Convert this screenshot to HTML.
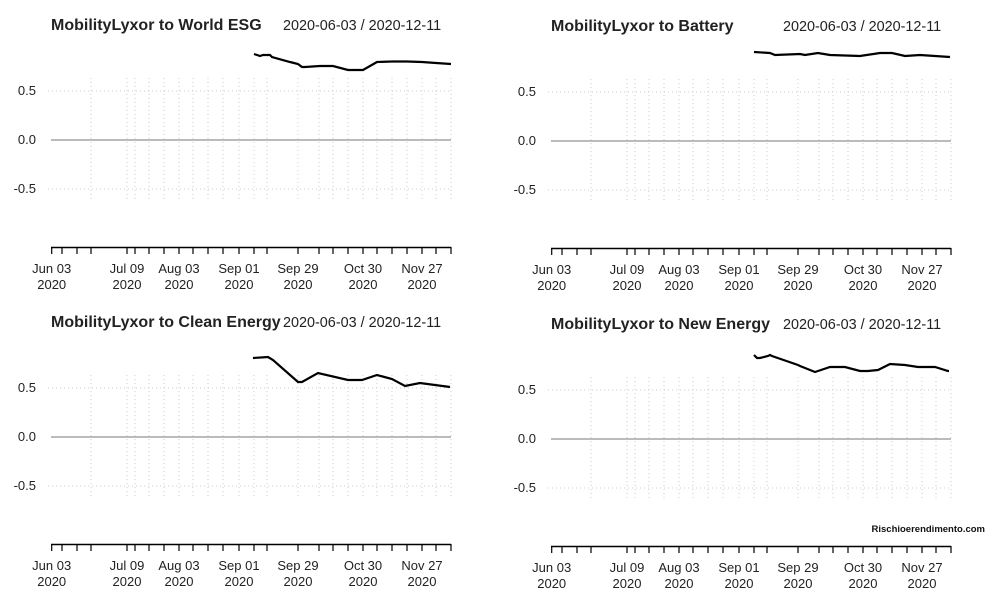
<!DOCTYPE html>
<html><head><meta charset="utf-8"><style>
body{margin:0;background:#fff;}
svg{display:block;font-family:"Liberation Sans",sans-serif;}
</style></head><body>
<svg id="s" width="1000" height="600" xmlns="http://www.w3.org/2000/svg"></svg>
<script>
const s=document.getElementById('s');let h='';
const ticks=[51.7,62,77,91,127,135,149,164,179,193,208,223,239,254,267,298,319,333,348,363,377,392,407,422,436,451];
const grid=[91,127,135,149,164,179,193,208,223,239,254,267,298,319,333,348,363,377,392,407,422,436,451];
const labs=[[51.7,'Jun 03'],[127,'Jul 09'],[179,'Aug 03'],[239,'Sep 01'],[298,'Sep 29'],[363,'Oct 30'],[422,'Nov 27']];
const panels=[
 {dx:0,dy:0,t:'MobilityLyxor to World ESG',tx:283,d:[[254,54],[257,55],[260,56],[263,55],[270,55],[272,57],[290,62],[298,64],[302,67],[305,67],[320,66],[333,66],[348,70],[363,70],[377,62],[392,61.5],[407,61.5],[422,62],[436,63],[451,64]]},
 {dx:500,dy:1,t:'MobilityLyxor to Battery',tx:283,d:[[254,51],[270,52],[275,54],[300,53],[305,54],[318,52],[330,54],[360,55],[380,52],[392,52],[405,55],[420,54],[450,56]]},
 {dx:0,dy:297,t:'MobilityLyxor to Clean Energy',tx:283,d:[[253,61],[268,60],[273,63],[298,85],[302,85],[318,76],[348,83],[362,83],[377,78],[392,82],[405,89],[420,86],[450,90]]},
 {dx:500,dy:299,t:'MobilityLyxor to New Energy',tx:283,d:[[254,56],[257,59],[260,59],[268,57],[270,56],[272,57],[298,66],[300,67],[315,73],[318,72],[330,68],[345,68],[360,72],[368,72],[378,71],[390,65],[405,66],[418,68],[435,68],[448,72],[449,72]]}
];
for(const p of panels){
 h+=`<g transform="translate(${p.dx},${p.dy})">`;
 h+=`<text x="51" y="30" font-size="16" font-weight="bold" fill="#222">${p.t}</text>`;
 h+=`<text x="${p.tx}" y="30" font-size="14.4" fill="#222">2020-06-03 / 2020-12-11</text>`;
 for(const y of [91,189]) h+=`<line x1="48" x2="451" y1="${y}" y2="${y}" stroke="#ccc" stroke-dasharray="1,3"/>`;
 for(const x of grid) h+=`<line x1="${x}" x2="${x}" y1="78" y2="202" stroke="#ccc" stroke-dasharray="1,3"/>`;
 h+=`<line x1="51" x2="451" y1="140" y2="140" stroke="#777"/>`;
 h+=`<text x="36" y="95" font-size="13" fill="#222" text-anchor="end">0.5</text><text x="36" y="144" font-size="13" fill="#222" text-anchor="end">0.0</text><text x="36" y="193" font-size="13" fill="#222" text-anchor="end">-0.5</text>`;
 h+=`<line x1="51" x2="451" y1="247.5" y2="247.5" stroke="#000" stroke-width="1.5"/>`;
 for(const x of ticks) h+=`<line x1="${x}" x2="${x}" y1="247" y2="254" stroke="#000" stroke-width="1.2"/>`;
 for(const [x,l] of labs) h+=`<text x="${x}" y="273" font-size="13" fill="#222" text-anchor="middle">${l}</text><text x="${x}" y="289" font-size="13" fill="#222" text-anchor="middle">2020</text>`;
 h+=`<polyline fill="none" stroke="#000" stroke-width="2.2" points="${p.d.map(a=>a.join(',')).join(' ')}"/>`;
 h+='</g>';
}
h+=`<text x="985" y="532" font-size="9.5" font-weight="bold" fill="#111" text-anchor="end">Rischioerendimento.com</text>`;
s.innerHTML=h;
</script>
</body></html>
